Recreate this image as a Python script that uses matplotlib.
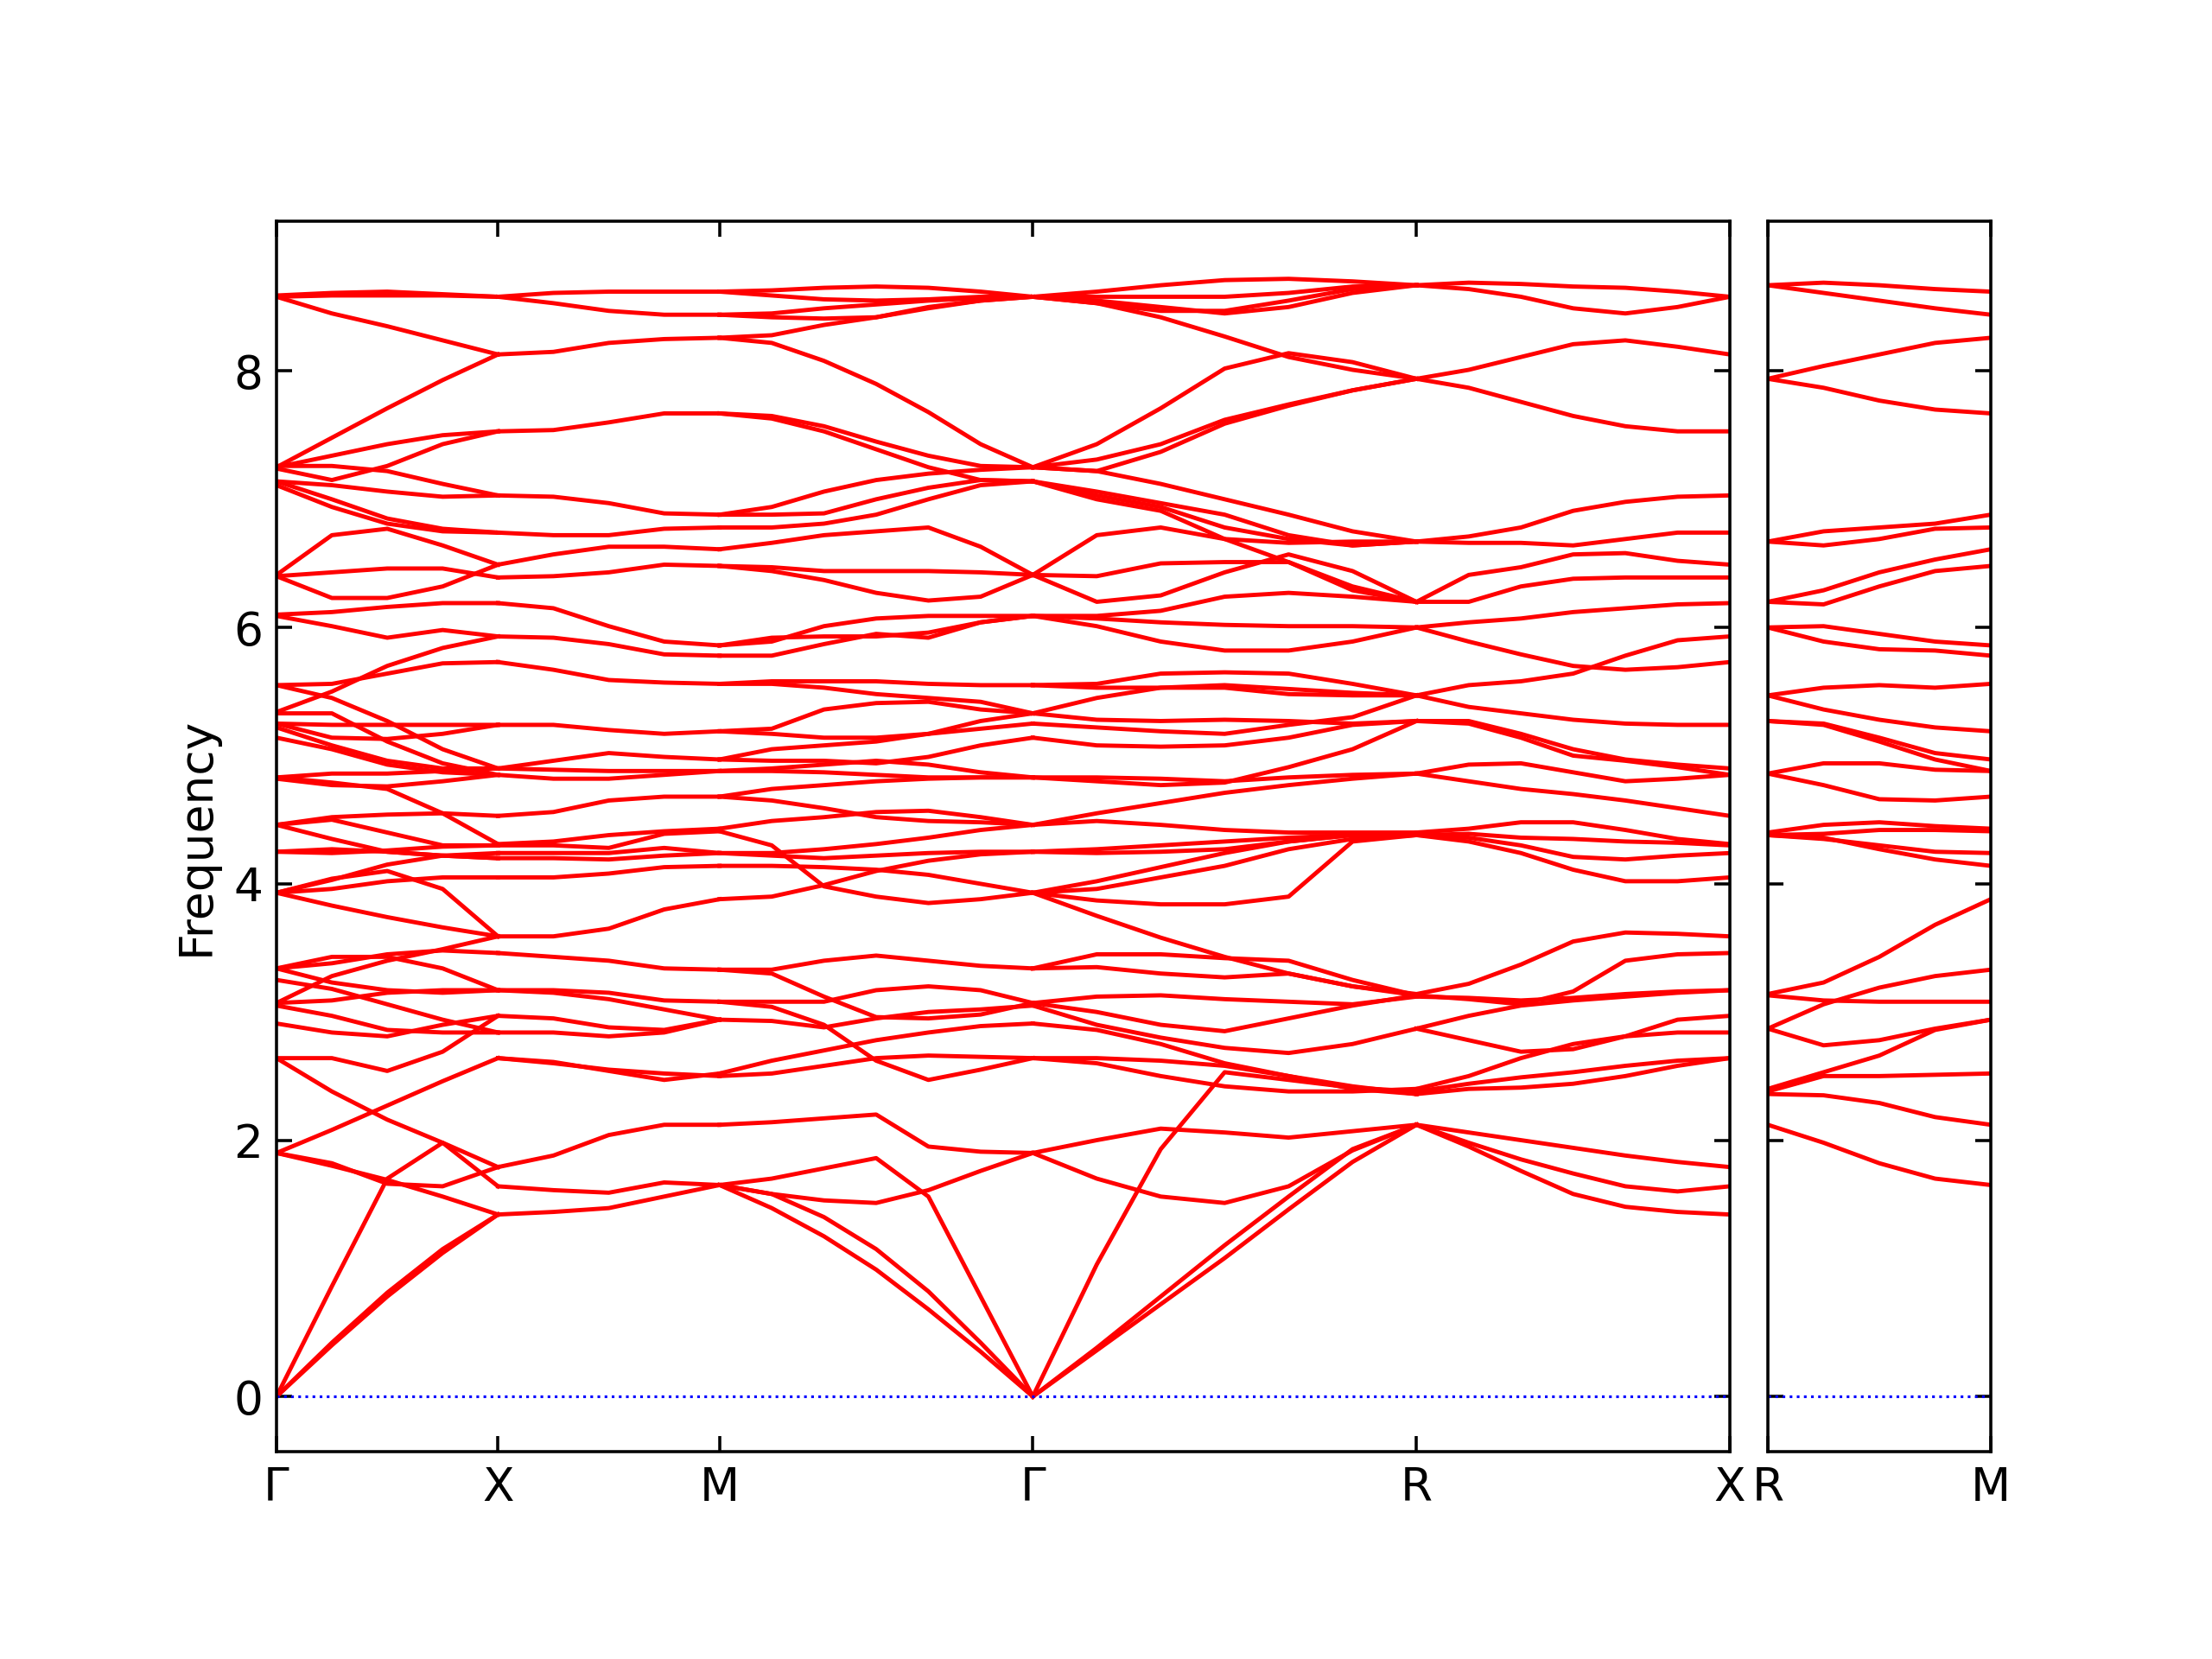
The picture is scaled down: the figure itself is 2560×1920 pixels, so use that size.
"""
Phonon band structure along G-X-M-G-R-X | R-M
"""

import numpy as np
import matplotlib
matplotlib.use("Agg")
import matplotlib.pyplot as plt

############### Path ################
path_labels = ["Γ", "X", "M", "Γ", "R", "X"]
path_lengths = [1.0, 1.0, np.sqrt(2), np.sqrt(3), np.sqrt(2)]
extra_labels = ["R", "M"]
extra_length = 1.0

############### Frequencies read along each segment (evenly spaced samples) ################
# G -> X
gx_bands = [
    [8.59, 8.61, 8.62, 8.60, 8.58],
    [8.58, 8.59, 8.59, 8.59, 8.58],
    [8.58, 8.45, 8.35, 8.24, 8.13],
    [7.25, 7.48, 7.71, 7.93, 8.13],
    [7.25, 7.34, 7.43, 7.50, 7.53],
    [7.24, 7.15, 7.26, 7.43, 7.53],
    [7.26, 7.26, 7.22, 7.12, 7.03],
    [7.14, 7.11, 7.06, 7.02, 7.03],
    [7.14, 7.00, 6.85, 6.77, 6.74],
    [7.11, 6.94, 6.81, 6.75, 6.74],
    [6.41, 6.72, 6.77, 6.64, 6.49],
    [6.40, 6.43, 6.46, 6.46, 6.39],
    [6.40, 6.23, 6.23, 6.32, 6.49],
    [6.10, 6.12, 6.16, 6.19, 6.19],
    [6.09, 6.01, 5.92, 5.98, 5.93],
    [5.55, 5.56, 5.64, 5.72, 5.73],
    [5.34, 5.50, 5.70, 5.84, 5.93],
    [5.55, 5.45, 5.27, 5.05, 4.90],
    [5.33, 5.33, 5.11, 4.94, 4.85],
    [5.25, 5.24, 5.24, 5.24, 5.24],
    [5.25, 5.14, 5.13, 5.17, 5.24],
    [5.22, 5.08, 4.96, 4.90, 4.90],
    [5.14, 5.05, 4.93, 4.87, 4.85],
    [4.83, 4.86, 4.86, 4.88, 4.90],
    [4.82, 4.77, 4.76, 4.80, 4.85],
    [4.83, 4.79, 4.74, 4.55, 4.31],
    [4.46, 4.52, 4.54, 4.55, 4.53],
    [4.46, 4.50, 4.40, 4.30, 4.30],
    [4.46, 4.35, 4.25, 4.22, 4.20],
    [4.25, 4.27, 4.25, 4.22, 4.20],
    [4.25, 4.24, 4.26, 4.29, 4.30],
    [3.93, 4.04, 4.10, 3.96, 3.59],
    [3.93, 3.96, 4.02, 4.05, 4.05],
    [3.93, 4.03, 4.15, 4.22, 4.24],
    [3.93, 3.83, 3.74, 3.66, 3.59],
    [3.34, 3.43, 3.43, 3.34, 3.17],
    [3.34, 3.38, 3.45, 3.48, 3.46],
    [3.34, 3.23, 3.17, 3.15, 3.17],
    [3.25, 3.18, 3.06, 2.94, 2.84],
    [3.07, 3.28, 3.40, 3.49, 3.59],
    [3.07, 3.09, 3.15, 3.17, 3.17],
    [3.05, 2.97, 2.86, 2.84, 2.84],
    [2.91, 2.84, 2.81, 2.90, 2.97],
    [2.64, 2.64, 2.54, 2.69, 2.97],
    [2.64, 2.38, 2.16, 1.98, 1.79],
    [1.90, 2.08, 2.27, 2.46, 2.64],
    [1.90, 1.82, 1.66, 1.64, 1.79],
    [1.90, 1.80, 1.69, 1.56, 1.42],
    [0.00, 0.86, 1.70, 1.98, 1.64],
    [0.00, 0.40, 0.78, 1.12, 1.42],
    [0.00, 0.42, 0.81, 1.15, 1.42],
]

# X -> M
xm_bands = [
    [8.58, 8.61, 8.62, 8.62, 8.62],
    [8.58, 8.53, 8.47, 8.44, 8.44],
    [8.13, 8.15, 8.22, 8.25, 8.26],
    [7.53, 7.54, 7.60, 7.67, 7.67],
    [7.03, 7.02, 6.97, 6.89, 6.88],
    [6.74, 6.72, 6.72, 6.77, 6.78],
    [6.49, 6.57, 6.63, 6.63, 6.61],
    [6.39, 6.40, 6.43, 6.49, 6.48],
    [6.19, 6.15, 6.01, 5.89, 5.86],
    [5.93, 5.92, 5.87, 5.79, 5.78],
    [5.73, 5.67, 5.59, 5.57, 5.56],
    [5.24, 5.24, 5.20, 5.17, 5.19],
    [4.90, 4.96, 5.02, 4.99, 4.97],
    [4.90, 4.89, 4.88, 4.88, 4.88],
    [4.85, 4.82, 4.82, 4.85, 4.88],
    [4.53, 4.56, 4.65, 4.68, 4.68],
    [4.31, 4.33, 4.38, 4.41, 4.43],
    [4.30, 4.30, 4.28, 4.39, 4.41],
    [4.24, 4.24, 4.24, 4.28, 4.24],
    [4.20, 4.20, 4.19, 4.22, 4.24],
    [4.05, 4.05, 4.08, 4.13, 4.14],
    [3.59, 3.59, 3.65, 3.80, 3.88],
    [3.46, 3.43, 3.40, 3.34, 3.33],
    [3.17, 3.17, 3.15, 3.09, 3.08],
    [3.17, 3.15, 3.10, 3.02, 2.94],
    [2.97, 2.95, 2.88, 2.86, 2.94],
    [2.84, 2.84, 2.81, 2.84, 2.94],
    [2.64, 2.61, 2.54, 2.47, 2.52],
    [2.64, 2.60, 2.55, 2.52, 2.50],
    [1.79, 1.88, 2.04, 2.12, 2.12],
    [1.64, 1.61, 1.59, 1.67, 1.65],
    [1.42, 1.44, 1.47, 1.56, 1.65],
]

# M -> G
mg_bands = [
    [8.62, 8.63, 8.65, 8.66, 8.65, 8.62, 8.58],
    [8.62, 8.59, 8.56, 8.55, 8.56, 8.58, 8.58],
    [8.44, 8.42, 8.41, 8.42, 8.50, 8.55, 8.58],
    [8.44, 8.45, 8.49, 8.52, 8.55, 8.57, 8.58],
    [8.26, 8.28, 8.36, 8.42, 8.49, 8.55, 8.58],
    [8.26, 8.22, 8.08, 7.90, 7.68, 7.43, 7.25],
    [7.67, 7.65, 7.57, 7.45, 7.34, 7.26, 7.25],
    [7.67, 7.63, 7.53, 7.39, 7.25, 7.15, 7.14],
    [6.88, 6.94, 7.06, 7.15, 7.20, 7.23, 7.25],
    [6.88, 6.88, 6.89, 7.00, 7.09, 7.15, 7.14],
    [6.78, 6.78, 6.81, 6.88, 7.00, 7.11, 7.14],
    [6.61, 6.66, 6.72, 6.75, 6.78, 6.63, 6.41],
    [6.48, 6.47, 6.44, 6.44, 6.44, 6.43, 6.41],
    [6.48, 6.44, 6.37, 6.27, 6.21, 6.24, 6.41],
    [5.86, 5.89, 6.01, 6.07, 6.09, 6.09, 6.09],
    [5.86, 5.92, 5.93, 5.93, 5.96, 6.04, 6.09],
    [5.78, 5.78, 5.87, 5.95, 5.92, 6.04, 6.09],
    [5.56, 5.58, 5.58, 5.58, 5.56, 5.55, 5.55],
    [5.56, 5.56, 5.53, 5.48, 5.45, 5.42, 5.33],
    [5.19, 5.21, 5.36, 5.41, 5.42, 5.36, 5.33],
    [5.19, 5.17, 5.14, 5.14, 5.17, 5.21, 5.25],
    [4.97, 5.05, 5.08, 5.11, 5.17, 5.27, 5.33],
    [4.97, 4.96, 4.96, 4.94, 4.99, 5.08, 5.14],
    [4.88, 4.88, 4.87, 4.85, 4.83, 4.83, 4.83],
    [4.88, 4.90, 4.93, 4.96, 4.93, 4.87, 4.83],
    [4.68, 4.74, 4.77, 4.80, 4.82, 4.83, 4.83],
    [4.68, 4.65, 4.59, 4.52, 4.49, 4.48, 4.46],
    [4.43, 4.49, 4.52, 4.56, 4.57, 4.52, 4.46],
    [4.41, 4.30, 3.98, 3.90, 3.85, 3.88, 3.93],
    [4.24, 4.24, 4.27, 4.31, 4.36, 4.42, 4.46],
    [4.24, 4.22, 4.20, 4.22, 4.24, 4.25, 4.25],
    [4.14, 4.14, 4.13, 4.11, 4.07, 4.00, 3.93],
    [3.88, 3.90, 3.99, 4.10, 4.18, 4.23, 4.25],
    [3.33, 3.33, 3.40, 3.44, 3.40, 3.36, 3.34],
    [3.08, 3.08, 3.08, 3.17, 3.20, 3.17, 3.07],
    [3.33, 3.30, 3.12, 2.96, 2.95, 2.98, 3.07],
    [2.94, 2.93, 2.88, 2.95, 3.00, 3.02, 3.05],
    [3.08, 3.04, 2.90, 2.62, 2.47, 2.55, 2.64],
    [2.52, 2.62, 2.70, 2.78, 2.84, 2.89, 2.91],
    [2.50, 2.52, 2.58, 2.64, 2.66, 2.65, 2.64],
    [2.12, 2.14, 2.17, 2.20, 1.95, 1.91, 1.90],
    [1.65, 1.70, 1.78, 1.86, 1.56, 0.78, 0.00],
    [1.65, 1.58, 1.53, 1.51, 1.61, 1.76, 1.90],
    [1.65, 1.47, 1.25, 0.99, 0.68, 0.35, 0.00],
    [1.65, 1.58, 1.40, 1.15, 0.82, 0.42, 0.00],
]

# G -> R
gr_bands = [
    [8.58, 8.62, 8.67, 8.71, 8.72, 8.70, 8.67],
    [8.58, 8.58, 8.58, 8.58, 8.61, 8.66, 8.67],
    [8.58, 8.55, 8.50, 8.45, 8.50, 8.61, 8.67],
    [8.58, 8.53, 8.47, 8.47, 8.55, 8.64, 8.67],
    [8.58, 8.53, 8.42, 8.27, 8.11, 8.01, 7.94],
    [7.25, 7.43, 7.71, 8.02, 8.14, 8.07, 7.94],
    [7.25, 7.31, 7.43, 7.62, 7.74, 7.85, 7.94],
    [7.25, 7.22, 7.37, 7.59, 7.73, 7.85, 7.94],
    [7.25, 7.22, 7.12, 7.00, 6.88, 6.75, 6.67],
    [7.14, 7.03, 6.94, 6.78, 6.69, 6.64, 6.67],
    [7.14, 7.06, 6.97, 6.88, 6.72, 6.64, 6.67],
    [7.14, 7.00, 6.91, 6.69, 6.66, 6.67, 6.67],
    [6.41, 6.72, 6.78, 6.69, 6.51, 6.29, 6.20],
    [6.41, 6.40, 6.50, 6.51, 6.51, 6.32, 6.20],
    [6.41, 6.20, 6.25, 6.43, 6.57, 6.44, 6.20],
    [6.09, 6.09, 6.13, 6.24, 6.27, 6.24, 6.20],
    [6.09, 6.07, 6.04, 6.02, 6.01, 6.01, 6.00],
    [6.09, 6.01, 5.89, 5.82, 5.82, 5.89, 6.00],
    [5.55, 5.56, 5.64, 5.65, 5.64, 5.56, 5.47],
    [5.55, 5.53, 5.53, 5.55, 5.52, 5.49, 5.47],
    [5.33, 5.45, 5.53, 5.53, 5.48, 5.47, 5.47],
    [5.33, 5.28, 5.27, 5.28, 5.27, 5.25, 5.27],
    [5.25, 5.22, 5.19, 5.17, 5.24, 5.30, 5.47],
    [5.14, 5.08, 5.07, 5.08, 5.14, 5.24, 5.27],
    [4.83, 4.83, 4.82, 4.80, 4.83, 4.85, 4.86],
    [4.83, 4.80, 4.77, 4.79, 4.91, 5.05, 5.27],
    [4.46, 4.55, 4.63, 4.71, 4.77, 4.82, 4.86],
    [4.46, 4.49, 4.46, 4.42, 4.40, 4.40, 4.40],
    [4.25, 4.27, 4.30, 4.33, 4.36, 4.38, 4.38],
    [4.25, 4.24, 4.25, 4.27, 4.33, 4.38, 4.38],
    [3.93, 4.02, 4.13, 4.24, 4.33, 4.38, 4.38],
    [3.93, 3.96, 4.05, 4.14, 4.27, 4.35, 4.38],
    [3.93, 3.87, 3.84, 3.84, 3.90, 4.33, 4.38],
    [3.93, 3.75, 3.58, 3.43, 3.30, 3.20, 3.14],
    [3.34, 3.45, 3.45, 3.42, 3.40, 3.25, 3.13],
    [3.34, 3.35, 3.30, 3.27, 3.30, 3.20, 3.13],
    [3.07, 3.12, 3.13, 3.10, 3.08, 3.06, 3.12],
    [3.07, 3.00, 2.90, 2.85, 2.95, 3.05, 3.13],
    [3.05, 2.90, 2.80, 2.72, 2.68, 2.75, 2.87],
    [2.91, 2.86, 2.75, 2.60, 2.50, 2.42, 2.36],
    [2.64, 2.64, 2.62, 2.58, 2.50, 2.40, 2.36],
    [2.64, 2.60, 2.50, 2.42, 2.38, 2.38, 2.40],
    [0.00, 1.03, 1.93, 2.53, 2.47, 2.41, 2.38],
    [0.00, 0.38, 0.78, 1.18, 1.56, 1.93, 2.12],
    [0.00, 0.36, 0.72, 1.08, 1.46, 1.83, 2.12],
    [1.90, 1.70, 1.56, 1.51, 1.64, 1.92, 2.12],
    [1.90, 2.00, 2.09, 2.06, 2.02, 2.07, 2.12],
]

# R -> X
rx_bands = [
    [8.67, 8.69, 8.68, 8.66, 8.65, 8.62, 8.58],
    [8.67, 8.64, 8.58, 8.49, 8.45, 8.50, 8.58],
    [7.94, 8.01, 8.11, 8.21, 8.24, 8.19, 8.13],
    [7.94, 7.87, 7.76, 7.65, 7.57, 7.53, 7.53],
    [6.67, 6.71, 6.78, 6.91, 6.98, 7.02, 7.03],
    [6.67, 6.66, 6.66, 6.64, 6.69, 6.74, 6.74],
    [6.20, 6.41, 6.47, 6.57, 6.58, 6.52, 6.49],
    [6.20, 6.20, 6.32, 6.38, 6.39, 6.39, 6.39],
    [6.00, 6.04, 6.07, 6.12, 6.15, 6.18, 6.19],
    [6.00, 5.89, 5.79, 5.70, 5.67, 5.69, 5.73],
    [5.47, 5.55, 5.58, 5.64, 5.78, 5.90, 5.93],
    [5.47, 5.38, 5.33, 5.28, 5.25, 5.24, 5.24],
    [5.27, 5.27, 5.17, 5.05, 4.97, 4.93, 4.90],
    [5.27, 5.25, 5.14, 5.00, 4.96, 4.91, 4.85],
    [4.86, 4.93, 4.94, 4.87, 4.80, 4.82, 4.85],
    [4.86, 4.80, 4.74, 4.70, 4.65, 4.59, 4.53],
    [4.40, 4.43, 4.48, 4.48, 4.42, 4.35, 4.31],
    [4.38, 4.39, 4.36, 4.35, 4.33, 4.32, 4.30],
    [4.38, 4.36, 4.30, 4.21, 4.19, 4.22, 4.24],
    [4.38, 4.33, 4.24, 4.11, 4.02, 4.02, 4.05],
    [3.14, 3.22, 3.37, 3.55, 3.62, 3.61, 3.59],
    [3.13, 3.10, 3.06, 3.16, 3.40, 3.45, 3.46],
    [3.12, 3.11, 3.09, 3.11, 3.14, 3.16, 3.17],
    [2.87, 2.97, 3.05, 3.09, 3.12, 3.15, 3.17],
    [2.87, 2.78, 2.69, 2.71, 2.81, 2.94, 2.97],
    [2.40, 2.50, 2.64, 2.75, 2.81, 2.84, 2.84],
    [2.38, 2.44, 2.49, 2.53, 2.58, 2.62, 2.64],
    [2.36, 2.40, 2.41, 2.44, 2.50, 2.58, 2.64],
    [2.12, 2.06, 2.00, 1.94, 1.88, 1.83, 1.79],
    [2.12, 1.98, 1.85, 1.74, 1.64, 1.60, 1.64],
    [2.12, 1.95, 1.76, 1.58, 1.48, 1.44, 1.42],
]

# R -> M (second panel)
rm_bands = [
    [8.67, 8.69, 8.67, 8.64, 8.62],
    [8.67, 8.61, 8.55, 8.49, 8.44],
    [7.94, 8.04, 8.13, 8.22, 8.26],
    [7.94, 7.87, 7.77, 7.70, 7.67],
    [6.67, 6.75, 6.78, 6.81, 6.88],
    [6.67, 6.64, 6.69, 6.77, 6.78],
    [6.20, 6.29, 6.43, 6.53, 6.61],
    [6.20, 6.18, 6.32, 6.44, 6.48],
    [6.00, 6.01, 5.95, 5.89, 5.86],
    [6.00, 5.89, 5.83, 5.82, 5.78],
    [5.47, 5.53, 5.55, 5.53, 5.56],
    [5.47, 5.36, 5.28, 5.22, 5.19],
    [5.27, 5.25, 5.14, 5.02, 4.97],
    [5.27, 5.24, 5.11, 4.97, 4.88],
    [4.86, 4.94, 4.94, 4.89, 4.88],
    [4.86, 4.77, 4.66, 4.65, 4.68],
    [4.40, 4.46, 4.48, 4.45, 4.43],
    [4.38, 4.39, 4.42, 4.42, 4.41],
    [4.38, 4.35, 4.30, 4.25, 4.24],
    [4.38, 4.36, 4.27, 4.19, 4.14],
    [3.14, 3.23, 3.43, 3.68, 3.88],
    [3.13, 3.09, 3.08, 3.08, 3.08],
    [2.87, 3.06, 3.19, 3.28, 3.33],
    [2.87, 2.74, 2.78, 2.87, 2.94],
    [2.40, 2.53, 2.66, 2.86, 2.94],
    [2.38, 2.50, 2.50, 2.51, 2.52],
    [2.36, 2.35, 2.29, 2.18, 2.12],
    [2.12, 1.98, 1.82, 1.70, 1.65],
]

segments = [gx_bands, xm_bands, mg_bands, gr_bands, rx_bands]

########## Plot ##########
tick_pos = np.concatenate([[0.0], np.cumsum(path_lengths)])

fig = plt.figure(figsize=(8, 6), dpi=320)
ax1 = fig.add_axes([0.125, 0.125, 0.657, 0.7417])
ax2 = fig.add_axes([0.7992, 0.125, 0.1008, 0.7417])

for i, bands in enumerate(segments):
    for b in bands:
        x = np.linspace(tick_pos[i], tick_pos[i + 1], len(b))
        ax1.plot(x, b, color='r', lw=1.1, solid_joinstyle='round')

for b in rm_bands:
    x = np.linspace(0, extra_length, len(b))
    ax2.plot(x, b, color='r', lw=1.1, solid_joinstyle='round')

# zero line
ax1.plot([0, tick_pos[-1]], [0, 0], 'b:', lw=0.7)
ax2.plot([0, extra_length], [0, 0], 'b:', lw=0.7)

ax1.set_xlim(0, tick_pos[-1])
ax2.set_xlim(0, extra_length)
for ax in (ax1, ax2):
    ax.set_ylim(-0.43, 9.17)
    ax.set_yticks([0, 2, 4, 6, 8])
    ax.tick_params(direction='in', top=True, right=True, labelsize=12, length=4)

ax1.set_xticks(tick_pos)
ax1.set_xticklabels(path_labels)
ax2.set_xticks([0, extra_length])
ax2.set_xticklabels(extra_labels)
ax2.tick_params(labelleft=False)

ax1.set_ylabel("Frequency", fontsize=12)

fig.savefig("out.png", dpi=320)
